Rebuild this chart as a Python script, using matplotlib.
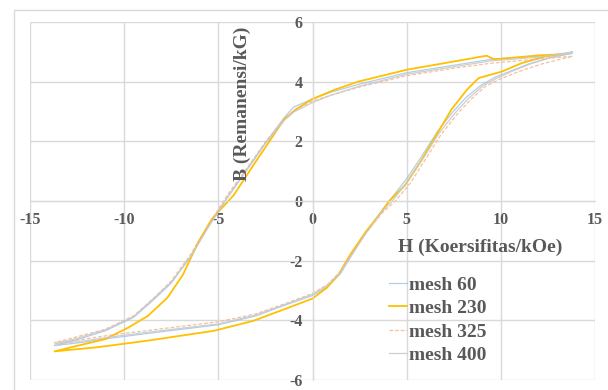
import matplotlib.pyplot as plt
from matplotlib.patches import Rectangle

# loop points: start at +Hmax, upper branch down to -Hmax, lower branch back up
h60 = [13.8, 12.0, 9.5, 7.5, 5.0, 2.5, 1.0, 0.0, -1.0, -1.5, -2.5, -3.5, -4.5, -5.5, -6.5, -7.5, -8.5, -9.5, -11.0, -12.5, -13.7,
       -12.0, -11.0, -8.5, -5.0, -3.0, -1.5, 0.0, 0.8, 1.5, 2.0, 2.8, 3.7, 4.2, 5.0, 5.8, 6.6, 7.4, 8.2, 9.0, 9.7, 10.5, 11.5, 12.5, 13.8]
b60 = [4.95, 4.85, 4.75, 4.55, 4.3, 3.92, 3.65, 3.42, 3.15, 2.8, 1.95, 1.05, 0.15, -0.82, -1.88, -2.75, -3.35, -3.9, -4.35, -4.65, -4.85,
       -4.72, -4.62, -4.42, -4.15, -3.85, -3.5, -3.17, -2.87, -2.42, -1.9, -1.1, -0.3, 0.1, 0.75, 1.5, 2.3, 2.95, 3.5, 3.9, 4.15, 4.35, 4.6, 4.78, 4.95]

h230 = [13.26, 12.0, 9.65, 9.24, 7.0, 5.0, 2.42, 1.18, 0.0, -0.89, -1.5, -2.33, -3.16, -4.19, -5.33, -6.05, -6.88, -7.7, -8.74, -9.77, -11.0, -12.46, -13.7,
        -11.4, -8.74, -5.23, -3.16, -1.5, 0.0, 0.76, 1.38, 2.0, 2.83, 3.66, 4.07, 4.9, 5.72, 6.55, 7.38, 8.2, 8.82, 9.44, 10.06, 11.1, 12.33, 13.26]
b230 = [4.92, 4.88, 4.75, 4.87, 4.62, 4.4, 4.0, 3.73, 3.42, 3.07, 2.74, 1.96, 1.18, 0.19, -0.59, -1.36, -2.47, -3.24, -3.85, -4.24, -4.63, -4.85, -5.04,
        -4.9, -4.68, -4.35, -4.02, -3.63, -3.27, -2.91, -2.47, -1.8, -1.03, -0.37, 0.0, 0.52, 1.3, 2.18, 3.07, 3.73, 4.12, 4.23, 4.34, 4.62, 4.84, 4.92]

h325 = [13.8, 12.0, 9.5, 7.5, 5.0, 2.5, 1.0, 0.0, -1.0, -1.5, -2.5, -3.5, -4.5, -5.5, -6.5, -7.5, -8.5, -9.5, -11.0, -12.5, -13.7,
        -12.0, -11.0, -8.5, -5.0, -3.0, -1.5, 0.0, 0.8, 1.5, 2.0, 2.8, 3.7, 4.4, 5.2, 6.0, 6.8, 7.6, 8.4, 9.2, 10.0, 11.0, 12.2, 13.8]
b325 = [4.85, 4.76, 4.62, 4.45, 4.2, 3.82, 3.55, 3.35, 3.02, 2.72, 1.98, 1.08, 0.22, -0.78, -1.82, -2.68, -3.3, -3.85, -4.3, -4.55, -4.75,
        -4.62, -4.52, -4.32, -4.05, -3.78, -3.45, -3.1, -2.8, -2.35, -1.85, -1.1, -0.4, 0.0, 0.6, 1.4, 2.2, 2.85, 3.4, 3.85, 4.1, 4.35, 4.6, 4.85]

h400 = [13.8, 12.0, 9.5, 7.5, 5.0, 2.5, 1.0, 0.0, -1.0, -1.5, -2.5, -3.5, -4.5, -5.5, -6.5, -7.5, -8.5, -9.5, -11.0, -12.5, -13.7,
        -12.0, -11.0, -8.5, -5.0, -3.0, -1.5, 0.0, 0.8, 1.5, 2.0, 2.8, 3.7, 4.3, 5.1, 5.9, 6.7, 7.5, 8.3, 9.1, 9.8, 10.6, 11.6, 12.6, 13.8]
b400 = [5.0, 4.82, 4.7, 4.5, 4.25, 3.85, 3.55, 3.3, 2.98, 2.7, 1.92, 1.02, 0.12, -0.85, -1.9, -2.72, -3.3, -3.88, -4.32, -4.6, -4.8,
        -4.68, -4.58, -4.38, -4.12, -3.82, -3.48, -3.13, -2.82, -2.38, -1.88, -1.12, -0.35, 0.05, 0.7, 1.45, 2.25, 2.9, 3.45, 3.88, 4.12, 4.35, 4.6, 4.8, 5.0]

labels = ["mesh 60", "mesh 230", "mesh 325", "mesh 400"]

plt.rcParams['font.family'] = ['Liberation Serif', 'DejaVu Serif']
plt.rcParams['font.weight'] = 'bold'
plt.rcParams['axes.unicode_minus'] = False
txt = '#595959'
grid = '#D9D9D9'

fig = plt.figure(figsize=(6.08, 3.90), dpi=100)
fig.patches.append(Rectangle((14/608, -0.1), 1.2, 1.1 - 10/390, transform=fig.transFigure,
                             fill=False, edgecolor=grid, linewidth=1.0))
ax = fig.add_axes([30/608, 1 - 380/390, 565/608, 358/390])

ax.plot(h60, b60, color='#9DC3E6', lw=0.9, alpha=0.8, label=labels[0])
ax.plot(h230, b230, color='#FFC000', lw=1.3, label=labels[1])
ax.plot(h325, b325, color='#F4B183', lw=0.9, ls=(0, (3, 1.5)), alpha=0.8, label=labels[2])
ax.plot(h400, b400, color='#C9C9C9', lw=0.9, alpha=0.9, label=labels[3])

ax.set_xlim(-15, 15)
ax.set_ylim(-6, 6)
ax.set_xticks(range(-15, 16, 5))
ax.set_yticks(range(-6, 7, 2))
ax.grid(True, color=grid, lw=1.0)
ax.set_axisbelow(True)

for s in ['top', 'right']:
    ax.spines[s].set_visible(False)
ax.spines['left'].set_position(('data', 0))
ax.spines['bottom'].set_position(('data', 0))
ax.spines['left'].set_color(grid)
ax.spines['bottom'].set_color(grid)
ax.tick_params(length=0, labelsize=11.5, labelcolor=txt)
ax.tick_params(axis='x', pad=8)
ax.tick_params(axis='y', pad=7)

ax.text(-3.7, 5.85, "B (Remanensi/kG)", rotation=90, ha='center', va='top',
        fontsize=14, color=txt, fontweight='bold')
ax.text(8.9, -1.55, "H (Koersifitas/kOe)", ha='center', va='center',
        fontsize=14, color=txt, fontweight='bold')

leg = ax.legend(loc='upper left', bbox_to_anchor=(0.635, 0.29), frameon=False,
                handlelength=0.95, handletextpad=0.1, labelspacing=0.3,
                borderpad=0, borderaxespad=0, prop={'size': 14, 'weight': 'bold'})
for t in leg.get_texts():
    t.set_color(txt)

fig.savefig('out.png', dpi=100)
